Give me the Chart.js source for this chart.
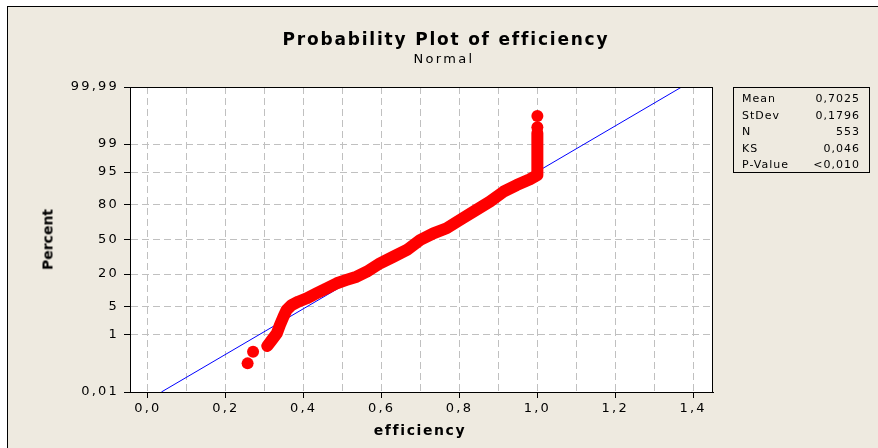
<!DOCTYPE html>
<html>
<head>
<meta charset="utf-8">
<script src="https://cdn.jsdelivr.net/npm/chart.js@4"></script>
<style>
html, body { margin: 0; padding: 0; background: #fff; overflow: hidden; }
#frame { position: absolute; left: 7px; top: 6px; width: 870px; height: 441px;
         background: #eeeae0; border-left: 1px solid #000; border-top: 1px solid #000; }
#wrap { position: absolute; left: 0; top: 0; width: 878px; height: 448px; }
.txt { position: absolute; font-family: "DejaVu Sans", sans-serif; color: #000; white-space: nowrap; }
#title { left: 246px; width: 400px; top: 29px; text-align: center; font-weight: bold;
         font-size: 17px; line-height: 20px; letter-spacing: 1.8px; }
#sub { left: 244px; width: 400px; top: 51px; text-align: center; font-size: 13px;
       line-height: 16px; letter-spacing: 2.3px; }
#ytitle { left: -2px; width: 100px; top: 231px; text-align: center; font-weight: bold;
          font-size: 14px; line-height: 17px; transform: rotate(-90deg); }
#xtitle { left: 320px; width: 200px; top: 422px; text-align: center; font-weight: bold;
          font-size: 14px; line-height: 17px; letter-spacing: 1.6px; }
#stats { left: 733px; top: 87px; border: 1px solid #000;
         padding: 3px 9px 0 8px; box-sizing: border-box; width: 137px; height: 86px;
         font-size: 11px; line-height: 16.6px; letter-spacing: 1px; }
#stats div { display: flex; justify-content: space-between; }
</style>
</head>
<body>
<div id="frame"></div>
<div id="wrap"><canvas id="probChart" width="878" height="448"></canvas></div>
<div class="txt" id="title">Probability Plot of efficiency</div>
<div class="txt" id="sub">Normal</div>
<div class="txt" id="ytitle">Percent</div>
<div class="txt" id="xtitle">efficiency</div>
<div class="txt" id="stats"></div>

<script>
// axis ticks
const xTicks = [0, 0.1, 0.2, 0.3, 0.4, 0.5, 0.6, 0.7, 0.8, 0.9, 1.0, 1.1, 1.2, 1.3, 1.4];
const xTickLabels = ['0,0', '', '0,2', '', '0,4', '', '0,6', '', '0,8', '', '1,0', '', '1,2', '', '1,4'];
const yTicks = [0.01, 1, 5, 20, 50, 80, 95, 99, 99.99];
const yTickLabels = ['0,01', '1', '5', '20', '50', '80', '95', '99', '99,99'];

// efficiency (x) vs percent (y)
const lowEff = [0.256, 0.270];
const lowPct = [0.126, 0.307];
const bandEff = [0.3065, 0.318, 0.331, 0.339, 0.348, 0.356, 0.369, 0.386, 0.408, 0.433,
                 0.459, 0.485, 0.510, 0.536, 0.562, 0.596, 0.630, 0.665, 0.699, 0.733,
                 0.767, 0.801, 0.836, 0.878, 0.913, 0.947, 0.981, 1.0, 1.0];
const bandPct = [0.47, 0.71, 1.10, 1.85, 2.98, 4.27, 5.50, 6.46, 7.58, 9.48,
                 11.7, 14.3, 16.2, 18.2, 21.6, 28.1, 33.7, 39.9, 49.5, 56.0,
                 60.8, 68.3, 75.1, 82.2, 87.8, 90.8, 92.9, 94.2, 99.53];
const topEff = [1.0, 1.0];
const topPct = [99.69, 99.87];

// fitted normal line ends
const fitEff = [0.0346, 1.3705];
const fitPct = [0.01, 99.99];

const statNames = ['Mean', 'StDev', 'N', 'KS', 'P-Value'];
const statValues = ['0,7025', '0,1796', '553', '0,046', '<0,010'];

// inverse normal cdf (probability scale)
function probit(p) {
    const a = [-39.69683028665376, 220.9460984245205, -275.9285104469687, 138.3577518672690, -30.66479806614716, 2.506628277459239];
    const b = [-54.47609879822406, 161.5858368580409, -155.6989798598866, 66.80131188771972, -13.28068155288572];
    const c = [-0.007784894002430293, -0.3223964580411365, -2.400758277161838, -2.549732539343734, 4.374664141464968, 2.938163982698783];
    const d = [0.007784695709041462, 0.3224671290700398, 2.445134137142996, 3.754408661907416];
    const pl = 0.02425;
    let q, r;
    if (p < pl) {
        q = Math.sqrt(-2 * Math.log(p));
        return (((((c[0]*q+c[1])*q+c[2])*q+c[3])*q+c[4])*q+c[5]) / ((((d[0]*q+d[1])*q+d[2])*q+d[3])*q+1);
    }
    if (p > 1 - pl) {
        q = Math.sqrt(-2 * Math.log(1 - p));
        return -(((((c[0]*q+c[1])*q+c[2])*q+c[3])*q+c[4])*q+c[5]) / ((((d[0]*q+d[1])*q+d[2])*q+d[3])*q+1);
    }
    q = p - 0.5;
    r = q * q;
    return (((((a[0]*r+a[1])*r+a[2])*r+a[3])*r+a[4])*r+a[5])*q / (((((b[0]*r+b[1])*r+b[2])*r+b[3])*r+b[4])*r+1);
}

const toPoints = (xs, ps) => xs.map((x, i) => ({ x: x, y: probit(ps[i] / 100) }));

// stats box
document.getElementById('stats').innerHTML = statNames
    .map((n, i) => '<div><span>' + n + '</span><span>' + statValues[i] + '</span></div>').join('');

// white plot area + black frame
const plotFrame = {
    id: 'plotFrame',
    beforeDraw(chart) {
        const { ctx, chartArea: a } = chart;
        ctx.save();
        ctx.fillStyle = '#fff';
        ctx.fillRect(a.left, a.top, a.right - a.left, a.bottom - a.top);
        ctx.restore();
        ctx.letterSpacing = '2.2px';
    },
    afterDraw(chart) {
        const { ctx, chartArea: a } = chart;
        ctx.save();
        ctx.strokeStyle = '#000';
        ctx.lineWidth = 1;
        ctx.strokeRect(a.left + 0.5, a.top + 0.5, a.right - a.left - 1, a.bottom - a.top);
        ctx.restore();
    }
};

const tickFont = { family: 'DejaVu Sans', size: 13 };

new Chart(document.getElementById('probChart'), {
    type: 'scatter',
    data: {
        datasets: [
            {
                data: toPoints(bandEff, bandPct),
                showLine: true,
                borderColor: '#ff0000',
                borderWidth: 12,
                borderCapStyle: 'round',
                borderJoinStyle: 'round',
                tension: 0,
                pointRadius: 0,
                order: 1
            },
            {
                data: toPoints(lowEff, lowPct).concat(toPoints(topEff, topPct)),
                backgroundColor: '#ff0000',
                borderWidth: 0,
                pointRadius: 6,
                order: 1
            },
            {
                data: toPoints(fitEff, fitPct),
                showLine: true,
                borderColor: '#0000ff',
                borderWidth: 1,
                pointRadius: 0,
                order: 2
            }
        ]
    },
    options: {
        responsive: false,
        animation: false,
        layout: { padding: { left: 0, top: 87, right: 165, bottom: 0 } },
        plugins: {
            legend: { display: false },
            title: { display: false },
            tooltip: { enabled: false }
        },
        scales: {
            x: {
                type: 'linear',
                min: -0.046,
                max: 1.451,
                afterBuildTicks: s => { s.ticks = xTicks.map(v => ({ value: v })); },
                afterFit: s => { s.height = 56; },
                ticks: {
                    autoSkip: false,
                    maxRotation: 0,
                    padding: 3,
                    color: '#000',
                    font: tickFont,
                    callback: (v, i) => xTickLabels[i]
                },
                grid: {
                    color: '#c0c0c0',
                    lineWidth: 1,
                    tickLength: 6,
                    tickColor: c => (xTickLabels[c.index] ? '#000' : 'rgba(0,0,0,0)')
                },
                border: { color: '#000', width: 1, dash: [7, 4] }
            },
            y: {
                type: 'linear',
                min: probit(0.0001),
                max: probit(0.9999),
                afterBuildTicks: s => { s.ticks = yTicks.map(p => ({ value: probit(p / 100) })); },
                afterFit: s => { s.width = 130; },
                ticks: {
                    autoSkip: false,
                    padding: 5,
                    color: '#000',
                    font: tickFont,
                    callback: (v, i) => yTickLabels[i]
                },
                grid: {
                    color: '#c0c0c0',
                    lineWidth: 1,
                    tickLength: 6,
                    tickColor: '#000'
                },
                border: { color: '#000', width: 1, dash: [7, 4] }
            }
        }
    },
    plugins: [plotFrame]
});
</script>
</body>
</html>
